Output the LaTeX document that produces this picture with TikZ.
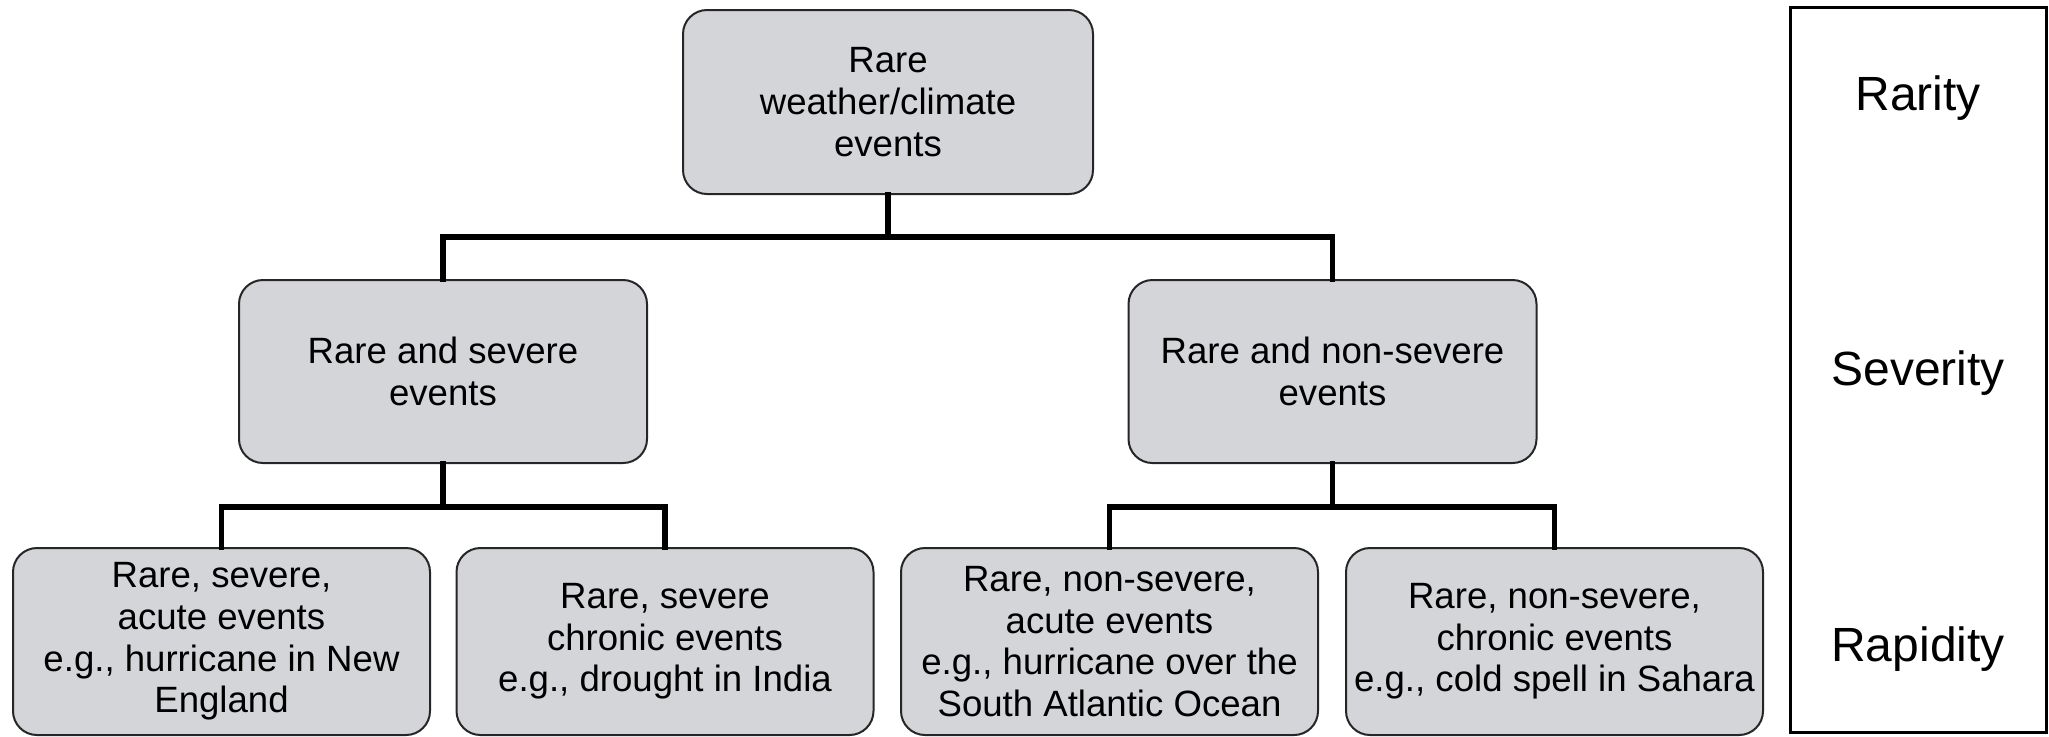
\documentclass[tikz,border=0pt]{standalone}
\usepackage{fontspec}
\setmainfont{Liberation Sans}
\definecolor{boxgray}{RGB}{211,213,216}
\begin{document}
\begin{tikzpicture}[x=0.5pt,y=-0.5pt,
  evbox/.style={draw=black!85, line width=1pt, fill=boxgray, rounded corners=12pt,
    align=center, inner sep=0pt, font=\fontsize{18.3}{20.8}\selectfont},
  topbox/.style={evbox, minimum width=205pt, minimum height=92pt},
  midbox/.style={evbox, minimum width=204pt, minimum height=91.5pt},
  lowbox/.style={evbox, minimum width=208.5pt, minimum height=93.5pt},
  conn/.style={line width=2.8pt, line cap=rect, line join=miter},
  lab/.style={font=\fontsize{24}{28}\selectfont, anchor=base}]
\useasboundingbox (0,0) rectangle (2049,736);
% boxes
\node[topbox] (top) at (888,102) {Rare\\weather/climate\\events};
\node[midbox] (ml) at (443,371.5) {Rare and severe\\events};
\node[midbox] (mr) at (1332.5,371.5) {Rare and non-severe\\events};
\node[lowbox] (b1) at (221.5,641.5) {Rare, severe,\\acute events\\e.g., hurricane in New\\England};
\node[lowbox] (b2) at (665,641.5) {Rare, severe\\chronic events\\e.g., drought in India};
\node[lowbox] (b3) at (1109.5,641.5) {Rare, non-severe,\\acute events\\e.g., hurricane over the\\South Atlantic Ocean};
\node[lowbox] (b4) at (1554.5,641.5) {Rare, non-severe,\\chronic events\\e.g., cold spell in Sahara};
% junctions
\coordinate (j1) at (888,237);
\coordinate (j2) at (443,507);
\coordinate (j3) at (1332.5,507);
% connectors
\draw[conn] (top.south) -- (j1);
\draw[conn] (ml.north) |- (j1) -| (mr.north);
\draw[conn] (ml.south) -- (j2);
\draw[conn] (b1.north) |- (j2) -| (b2.north);
\draw[conn] (mr.south) -- (j3);
\draw[conn] (b3.north) |- (j3) -| (b4.north);
% side panel
\node[draw, line width=1.5pt, minimum width=128pt, minimum height=362.5pt, inner sep=0pt] (panel) at (1918,369.5) {};
\node[lab] (rarity) at (1918,110) {Rarity};
\node[lab] (severity) at (1918,385) {Severity};
\node[lab] (rapidity) at (1918,661) {Rapidity};
\end{tikzpicture}
\end{document}
